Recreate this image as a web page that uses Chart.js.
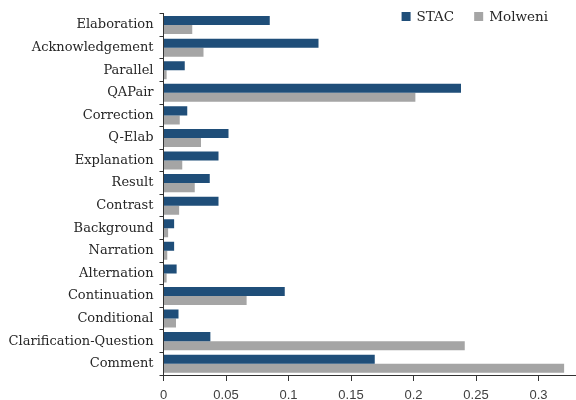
<!DOCTYPE html>
<html>
<head>
    <meta charset="UTF-8">
    <title>Relation Distribution</title>
    <script src="https://cdn.jsdelivr.net/npm/chart.js"></script>
    <style>
        body { margin: 0; background: #fff; }
        #wrap { width: 576px; height: 400px; }
    </style>
</head>
<body>
    <div id="wrap"><canvas id="relChart"></canvas></div>

    <script>
        // relation types, top to bottom
        const categories = [
            'Elaboration', 'Acknowledgement', 'Parallel', 'QAPair', 'Correction',
            'Q-Elab', 'Explanation', 'Result', 'Contrast', 'Background',
            'Narration', 'Alternation', 'Continuation', 'Conditional',
            'Clarification-Question', 'Comment'
        ];
        const stacValues = [
            0.085, 0.124, 0.017, 0.238, 0.019,
            0.052, 0.044, 0.037, 0.044, 0.0085,
            0.0085, 0.0105, 0.097, 0.012,
            0.0375, 0.169
        ];
        const molweniValues = [
            0.023, 0.032, 0.0025, 0.2015, 0.013,
            0.030, 0.015, 0.025, 0.0125, 0.0037,
            0.003, 0.0025, 0.0665, 0.010,
            0.241, 0.3205
        ];
        const xTicks = [0, 0.05, 0.1, 0.15, 0.2, 0.25, 0.3];
        const xMax = 0.33;

        const serif = '"DejaVu Serif", serif';
        const sans = '"Liberation Sans", Arial, sans-serif';

        // legend drawn in the top right corner of the plot, on top of it
        const cornerLegend = {
            id: 'cornerLegend',
            afterDraw(chart) {
                const c = chart.ctx;
                const area = chart.chartArea;
                const box = 9, gap = 6, itemGap = 20, rightMargin = 28;
                c.save();
                c.font = '13.5px ' + serif;
                c.textBaseline = 'middle';
                const items = chart.data.datasets.map(ds => ({
                    text: ds.label,
                    color: ds.backgroundColor,
                    w: box + gap + c.measureText(ds.label).width
                }));
                const total = items.reduce((s, it) => s + it.w, 0) + itemGap * (items.length - 1);
                let x = area.right - rightMargin - total;
                const y = 16.5;
                items.forEach(it => {
                    c.fillStyle = it.color;
                    c.fillRect(x, y - box / 2, box, box);
                    c.fillStyle = '#262626';
                    c.fillText(it.text, x + box + gap, y + 0.5);
                    x += it.w + itemGap;
                });
                c.restore();
            }
        };

        const ctx = document.getElementById('relChart').getContext('2d');
        new Chart(ctx, {
            type: 'bar',
            data: {
                labels: categories,
                datasets: [
                    {
                        label: 'STAC',
                        data: stacValues,
                        backgroundColor: '#1F4E79'
                    },
                    {
                        label: 'Molweni',
                        data: molweniValues,
                        backgroundColor: '#A5A5A5'
                    }
                ]
            },
            options: {
                indexAxis: 'y',
                responsive: true,
                maintainAspectRatio: false,
                animation: false,
                layout: { padding: { top: 4, right: 0, bottom: 0, left: 0 } },
                datasets: {
                    bar: { categoryPercentage: 0.8, barPercentage: 1.0 }
                },
                plugins: {
                    tooltip: { enabled: false },
                    legend: { display: false }
                },
                scales: {
                    x: {
                        min: 0,
                        max: xMax,
                        ticks: {
                            color: '#404040',
                            font: { family: sans, size: 13 },
                            padding: 7,
                            callback: v => String(+v.toFixed(2))
                        },
                        afterBuildTicks: scale => {
                            scale.ticks = xTicks.map(v => ({ value: v }));
                        },
                        afterFit: scale => { scale.height = 25; },
                        grid: { drawOnChartArea: false, tickLength: 6, color: '#333' },
                        border: { color: '#333', width: 1 }
                    },
                    y: {
                        ticks: {
                            color: '#262626',
                            font: { family: serif, size: 13 },
                            padding: 6
                        },
                        afterFit: scale => { scale.width = 163.5; },
                        grid: { drawOnChartArea: false, tickLength: 4, color: '#333' },
                        border: { color: '#333', width: 1 }
                    }
                }
            },
            plugins: [cornerLegend]
        });
    </script>
</body>
</html>
